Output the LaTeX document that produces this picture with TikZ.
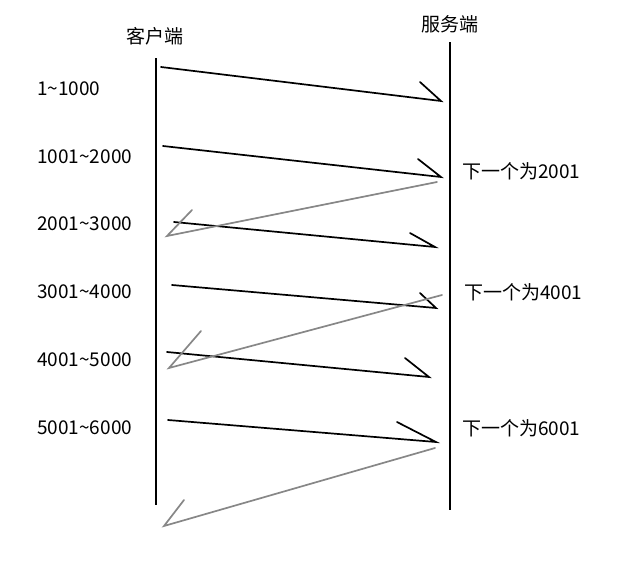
\documentclass[tikz,border=0pt]{standalone}
\usepackage{fontspec}
\setmainfont{Noto Sans CJK SC}
\definecolor{ackgray}{RGB}{135,135,135}

\begin{document}
\begin{tikzpicture}[x=1pt, y=-1pt,
    lbl/.style={font=\fontsize{19}{22}\selectfont, inner sep=0pt},
    host/.style={line width=1.7pt, black},
    sendline/.style={line width=1.7pt, black, line cap=round},
    ackline/.style={line width=1.7pt, ackgray, line cap=round}
]
    \useasboundingbox (0,0) rectangle (641,584);

    % the two hosts
    \node (client) [lbl] at (155,36) {客户端};
    \node (server) [lbl] at (450,24) {服务端};
    \coordinate (ctop) at (156,58);
    \coordinate (cbot) at (156,505);
    \coordinate (stop) at (450,42);
    \coordinate (sbot) at (450,510);
    \draw [host] (ctop) -- (cbot);
    \draw [host] (stop) -- (sbot);

    % segment ranges
    \node (seg1) [lbl, anchor=west] at (37,89)  {1\textasciitilde1000};
    \node (seg2) [lbl, anchor=west] at (37,157) {1001\textasciitilde2000};
    \node (seg3) [lbl, anchor=west] at (37,224) {2001\textasciitilde3000};
    \node (seg4) [lbl, anchor=west] at (37,292) {3001\textasciitilde4000};
    \node (seg5) [lbl, anchor=west] at (37,360) {4001\textasciitilde5000};
    \node (seg6) [lbl, anchor=west] at (37,428) {5001\textasciitilde6000};

    % acknowledgements
    \node (ack1) [lbl, anchor=west] at (462,171) {下一个为2001};
    \node (ack2) [lbl, anchor=west] at (464,292) {下一个为4001};
    \node (ack3) [lbl, anchor=west] at (462,428) {下一个为6001};

    % data segments
    \coordinate (d1a) at (161,67);  \coordinate (d1b) at (441,101); \coordinate (d1c) at (420,82);
    \coordinate (d2a) at (163,146); \coordinate (d2b) at (441,177); \coordinate (d2c) at (418,159);
    \coordinate (d3a) at (174,222); \coordinate (d3b) at (435,247); \coordinate (d3c) at (410,233);
    \coordinate (d4a) at (172,285); \coordinate (d4b) at (436,308); \coordinate (d4c) at (420,293);
    \coordinate (d5a) at (167,352); \coordinate (d5b) at (429,377); \coordinate (d5c) at (405,358);
    \coordinate (d6a) at (168,420); \coordinate (d6b) at (436,442); \coordinate (d6c) at (397,422);
    \foreach \i in {1,...,6} {
        \draw [sendline] (d\i a) -- (d\i b) -- (d\i c);
    }

    % returned acks
    \coordinate (r1a) at (437,182); \coordinate (r1b) at (167,236); \coordinate (r1c) at (192,210);
    \coordinate (r2a) at (442,295); \coordinate (r2b) at (169,368); \coordinate (r2c) at (201,331);
    \coordinate (r3a) at (435,448); \coordinate (r3b) at (164,526); \coordinate (r3c) at (184,500);
    \foreach \i in {1,2,3} {
        \draw [ackline] (r\i a) -- (r\i b) -- (r\i c);
    }
\end{tikzpicture}
\end{document}
